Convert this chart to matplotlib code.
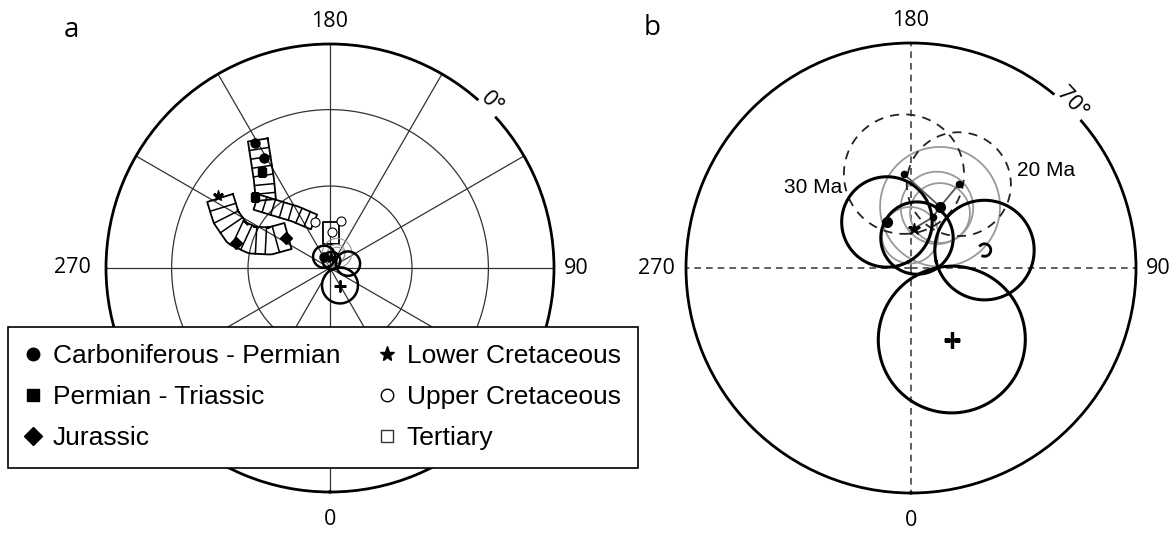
#!/usr/bin/python3
import numpy as np
import matplotlib
matplotlib.use('Agg')
import matplotlib.pyplot as plt
from matplotlib.lines import Line2D

plt.rcParams['font.family'] = ['Liberation Sans', 'DejaVu Sans']

# pole positions: longitude (deg E), latitude (deg N)
carb_perm_lon = [211.0, 211.0, 207.6]
carb_perm_lat = [35.2, 42.2, 85.4]
perm_tri_lon = [215.3, 226.6]
perm_tri_lat = [46.4, 51.9]
jurassic_lon = [255.1, 235.7]
jurassic_lat = [54.2, 70.6]
lower_cret_lon = [237.3, 175.6]
lower_cret_lat = [40.3, 86.5]
upper_cret_lon = [166.8, 176.8, 198.1]
upper_cret_lat = [72.5, 76.9, 72.5]

# swath centre lines (panel a)
swath_perm_lon = [209.4, 212.6, 216.9, 223.3]
swath_perm_lat = [34.7, 42.3, 49.4, 55.7]
swath_jur_lon = [237.5, 243.9, 249.4, 250.3, 245.8, 232.7]
swath_jur_lat = [41.4, 47.1, 53.4, 59.7, 66.0, 70.8]
swath_ter_lon = [228.3, 222.5, 212.9, 199.2]
swath_ter_lat = [53.5, 60.2, 66.5, 72.3]
swath_uc_lon = [178.8, 177.6]
swath_uc_lat = [73.3, 81.3]

# young poles with A95 (deg)
black_lon = [29.7, 103.7, 207.6, 168.7]
black_lat = [82.7, 83.3, 85.4, 87.3]
black_a95 = [6.5, 4.4, 4.0, 3.2]
gray_lon = [154.6, 156.6, 152.2, 181.7]
gray_lat = [84.0, 84.2, 84.5, 87.1]
gray_a95 = [5.3, 3.2, 2.65, 2.5]
ref_names = ['30 Ma', '20 Ma']
ref_lon = [184.3, 150.3]
ref_lat = [81.66, 81.45]
ref_a95 = [5.3, 4.6]
big_dot_lon = [154.6, 207.6]
big_dot_lat = [84.0, 85.4]
small_dot_lon = [184.3, 150.3, 156.7]
small_dot_lat = [81.66, 81.45, 85.1]
path_lon = [[184.3, 154.6], [150.3, 154.6], [154.6, 156.7, 175.6]]
path_lat = [[81.66, 84.0], [81.45, 84.0], [84.0, 85.1, 86.5]]

# compass labels round the rim
rim_labels = ['0', '90', '180', '270']
rim_lon = [0, 90, 180, 270]


def eq_area(lat):
    return np.sqrt(2) * np.sin(np.radians(90 - np.asarray(lat, float)) / 2)


def small_circle(lon0, lat0, alpha, start=0, stop=360):
    b = np.radians(np.linspace(start, stop, 181))
    la0, lo0, a = np.radians(lat0), np.radians(lon0), np.radians(alpha)
    lat = np.arcsin(np.sin(la0) * np.cos(a) + np.cos(la0) * np.sin(a) * np.cos(b))
    lon = lo0 + np.arctan2(np.sin(b) * np.sin(a) * np.cos(la0),
                           np.cos(a) - np.sin(la0) * np.sin(lat))
    return lon, eq_area(np.degrees(lat))


def to_xy(lon, lat):
    t, r = np.radians(lon), eq_area(lat)
    return r * np.sin(t), -r * np.cos(t)


def to_polar(x, y):
    return np.arctan2(x, -np.asarray(y)), np.hypot(x, y)


def swath(ax, lon, lat, hw, step):
    x, y = to_xy(lon, lat)
    s = np.concatenate([[0], np.cumsum(np.hypot(np.diff(x), np.diff(y)))])
    ss = np.linspace(0, s[-1], 200)
    xc, yc = np.interp(ss, s, x), np.interp(ss, s, y)
    dx, dy = np.gradient(xc), np.gradient(yc)
    n = np.hypot(dx, dy)
    nx, ny = -dy / n, dx / n
    xl, yl = xc + hw * nx, yc + hw * ny
    xr, yr = xc - hw * nx, yc - hw * ny
    ox = np.concatenate([xl, xr[::-1], xl[:1]])
    oy = np.concatenate([yl, yr[::-1], yl[:1]])
    ax.plot(*to_polar(ox, oy), color='k', lw=1.3, zorder=3)
    if step:
        for sv in np.arange(step, s[-1] - step * 0.5, step):
            i = np.argmin(abs(ss - sv))
            ax.plot(*to_polar([xl[i], xr[i]], [yl[i], yr[i]]), color='k', lw=1.1, zorder=3)


def rim_text(ax, rmax, offsets):
    for txt, lo, off in zip(rim_labels, rim_lon, offsets):
        t = np.radians(lo)
        ax.annotate(txt, xy=(t, rmax), xytext=(off * np.sin(t), -off * np.cos(t)),
                    textcoords='offset points', ha='center', va='center',
                    fontsize=15.5, family='Open Sans', annotation_clip=False)


fig = plt.figure(figsize=(11.76, 5.34), dpi=100)
ax_a = fig.add_axes([106 / 1176, 42 / 534, 448 / 1176, 448 / 534], projection='polar')
ax_b = fig.add_axes([686 / 1176, 41 / 534, 450 / 1176, 450 / 534], projection='polar')

for ax in (ax_a, ax_b):
    ax.set_theta_zero_location('S')
    ax.set_theta_direction(1)
    ax.spines['polar'].set_linewidth(2)

# panel a grid
ax_a.set_ylim(0, 1)
ax_a.set_yticks(eq_area([60, 30]))
ax_a.set_yticklabels([])
ax_a.set_thetagrids(np.arange(0, 360, 30), [''] * 12)
ax_a.grid(True, color='#333333', lw=0.9)
rim_text(ax_a, 1, [20, 16, 16, 24])

# panel b grid
rmax_b = eq_area(70)
ax_b.set_ylim(0, rmax_b)
ax_b.set_yticks([])
ax_b.set_thetagrids([0, 90, 180, 270], [''] * 4)
ax_b.xaxis.grid(True, color='#444444', lw=1.2, ls=(0, (4, 3)))
rim_text(ax_b, rmax_b, [20, 16, 16, 21])

# swaths
swath(ax_a, swath_perm_lon, swath_perm_lat, 10 / 224, 9 / 224)
swath(ax_a, swath_jur_lon, swath_jur_lat, 13.5 / 224, 10 / 224)
swath(ax_a, swath_ter_lon, swath_ter_lat, 8 / 224, 9 / 224)
swath(ax_a, swath_uc_lon, swath_uc_lat, 8 / 224, 0)

# confidence circles
for ax, lw_k, lw_g in ((ax_a, 1.8, 0.8), (ax_b, 2.2, 1.3)):
    for lo, la, a in zip(gray_lon, gray_lat, gray_a95):
        ax.plot(*small_circle(lo, la, a), color='#999999', lw=lw_g, zorder=3)
    for lo, la, a in zip(black_lon, black_lat, black_a95):
        ax.plot(*small_circle(lo, la, a), color='k', lw=lw_k, zorder=4)

for lo, la, a in zip(ref_lon, ref_lat, ref_a95):
    ax_b.plot(*small_circle(lo, la, a), color='#222222', lw=1.3, ls=(0, (5, 4)), zorder=3)
for lo, la in zip(path_lon, path_lat):
    ax_b.plot(np.radians(lo), eq_area(la), color='#555555', lw=1.3, zorder=4)
ax_b.plot(*small_circle(black_lon[1], black_lat[1], 0.55, 60, 300), color='k', lw=2, zorder=5)

# symbols panel a
mk = dict(ls='none', color='k', zorder=6)
ax_a.plot(np.radians(carb_perm_lon), eq_area(carb_perm_lat), 'o', ms=6.5, **mk)
ax_a.plot(np.radians(perm_tri_lon), eq_area(perm_tri_lat), 's', ms=6, **mk)
ax_a.plot(np.radians(jurassic_lon), eq_area(jurassic_lat), 'D', ms=6, **mk)
ax_a.plot(np.radians(lower_cret_lon), eq_area(lower_cret_lat), '*', ms=8, **mk)
ax_a.plot(np.radians(upper_cret_lon), eq_area(upper_cret_lat), 'o', ms=6.5, mfc='white',
          mec='k', mew=0.8, ls='none', zorder=6)
ax_a.plot(np.radians(black_lon[0]), eq_area(black_lat[0]), '+', ms=8, mew=2, **mk)

# symbols panel b
ax_b.plot(np.radians(big_dot_lon), eq_area(big_dot_lat), 'o', ms=7, **mk)
ax_b.plot(np.radians(small_dot_lon), eq_area(small_dot_lat), 'o', ms=4.5, **mk)
ax_b.plot(np.radians(lower_cret_lon[1]), eq_area(lower_cret_lat[1]), '*', ms=9, **mk)
ax_b.plot(np.radians(black_lon[0]), eq_area(black_lat[0]), '+', ms=11, mew=2.5, **mk)

# reference pole labels
ax_b.text(np.radians(230.4), eq_area(78.8), ref_names[0], fontsize=15, ha='center', va='center')
ax_b.text(np.radians(125.8), eq_area(75.2), ref_names[1], fontsize=15, ha='center', va='center')

# latitude labels on the outer circles
ax_a.text(np.radians(135.5), 1.03, '0°', rotation=-45, fontsize=16, family='Open Sans',
          ha='center', va='center', clip_on=False, zorder=10,
          bbox=dict(fc='white', ec='none', pad=0.5))
ax_b.text(np.radians(135.7), rmax_b * 1.025, '70°', rotation=-47, fontsize=16, family='Open Sans',
          ha='center', va='center', clip_on=False, zorder=10,
          bbox=dict(fc='white', ec='none', pad=0.5))

fig.text(71 / 1176, 1 - 30 / 534, 'a', fontsize=20, family='Open Sans', ha='center', va='center')
fig.text(652 / 1176, 1 - 28 / 534, 'b', fontsize=20, family='Open Sans', ha='center', va='center')

handles = [
    Line2D([], [], marker='o', ls='none', color='k', ms=9, label='Carboniferous - Permian'),
    Line2D([], [], marker='s', ls='none', color='k', ms=8, label='Permian - Triassic'),
    Line2D([], [], marker='D', ls='none', color='k', ms=9, label='Jurassic'),
    Line2D([], [], marker='*', ls='none', color='k', ms=11, label='Lower Cretaceous'),
    Line2D([], [], marker='o', ls='none', mfc='white', mec='k', mew=1, ms=9, label='Upper Cretaceous'),
    Line2D([], [], marker='s', ls='none', mfc='white', mec='#333333', mew=1, ms=9, label='Tertiary'),
]
leg = fig.legend(handles=handles, ncol=2, loc='upper left', mode='expand',
                 bbox_to_anchor=(8 / 1176, 1 - 327 / 534, 630 / 1176, 0),
                 borderaxespad=0, fontsize=19, handlelength=0.6, handletextpad=0.45,
                 labelspacing=0.65, borderpad=0.65, fancybox=False, framealpha=1,
                 edgecolor='k')
leg.get_frame().set_linewidth(1.2)

fig.savefig('out.png', dpi=100)
